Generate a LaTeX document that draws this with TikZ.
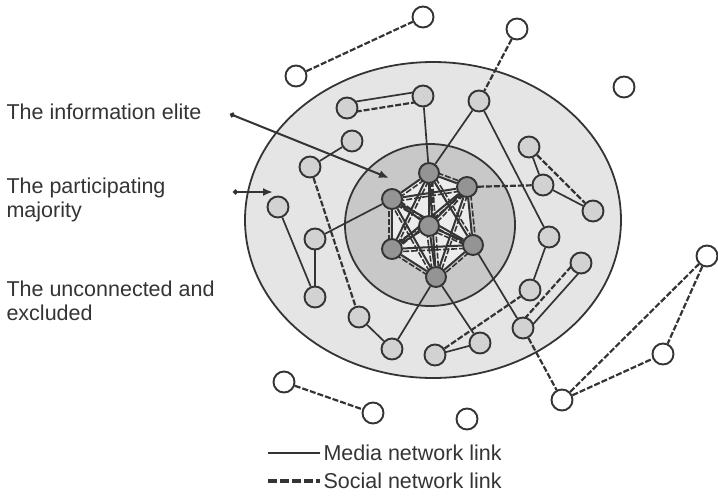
\documentclass[tikz,border=0pt]{standalone}
\usepackage{fontspec}
\setmainfont{Liberation Sans}
\usetikzlibrary{arrows.meta,calc}
\definecolor{InkGray}{RGB}{52,52,52}
\definecolor{OuterGray}{RGB}{229,229,229}
\definecolor{MiddleGray}{RGB}{200,200,200}
\definecolor{CoreGray}{RGB}{236,236,236}
\definecolor{MemberFill}{RGB}{210,210,210}
\definecolor{EliteFill}{RGB}{148,148,148}
\pgfdeclarelayer{back}
\pgfdeclarelayer{links}
\pgfsetlayers{back,links,main}
\tikzset{
  outsider/.style={circle,draw=InkGray,fill=white,line width=1.9pt,
    minimum size=21pt,inner sep=0pt},
  member/.style={circle,draw=InkGray,fill=MemberFill,line width=1.9pt,
    minimum size=21pt,inner sep=0pt},
  elite/.style={circle,draw=InkGray,fill=EliteFill,line width=1.9pt,
    minimum size=20pt,inner sep=0pt},
  media/.style={draw=InkGray,line width=1.7pt},
  social/.style={draw=InkGray,line width=2.2pt,dash pattern=on 6pt off 2pt},
  pointer/.style={draw=InkGray,line width=2pt,{Circle[length=5pt]}-{Latex[length=10pt,width=8pt]}},
  caption/.style={text=InkGray,font=\fontsize{21.5}{23.5}\selectfont,align=left,anchor=west}
}

\begin{document}
\begin{tikzpicture}[x=1pt,y=-1pt]
  \useasboundingbox (0,0) rectangle (718,496);

  % the information elite
  \node[elite] (etop) at (429,173) {};
  \node[elite] (eur)  at (467,187) {};
  \node[elite] (eul)  at (392,199) {};
  \node[elite] (ec)   at (429,226) {};
  \node[elite] (ell)  at (392,249) {};
  \node[elite] (elr)  at (473,245) {};
  \node[elite] (ebot) at (436,277) {};

  % the participating majority
  \node[member] (m1)  at (423,96)  {};
  \node[member] (m2)  at (347,108) {};
  \node[member] (m3)  at (479,101) {};
  \node[member] (m4)  at (352,141) {};
  \node[member] (m5)  at (310,167) {};
  \node[member] (m6)  at (529,147) {};
  \node[member] (m7)  at (543,185) {};
  \node[member] (m8)  at (593,211) {};
  \node[member] (m9)  at (549,237) {};
  \node[member] (m10) at (278,207) {};
  \node[member] (m11) at (315,239) {};
  \node[member] (m12) at (315,297) {};
  \node[member] (m13) at (359,317) {};
  \node[member] (m14) at (392,349) {};
  \node[member] (m15) at (435,355) {};
  \node[member] (m16) at (480,343) {};
  \node[member] (m17) at (530,290) {};
  \node[member] (m18) at (581,263) {};
  \node[member] (m19) at (523,328) {};

  % the unconnected and excluded
  \node[outsider] (u1)  at (423,17)  {};
  \node[outsider] (u2)  at (296,76)  {};
  \node[outsider] (u3)  at (517,29)  {};
  \node[outsider] (u4)  at (624,87)  {};
  \node[outsider] (u5)  at (284,382) {};
  \node[outsider] (u6)  at (373,413) {};
  \node[outsider] (u7)  at (467,419) {};
  \node[outsider] (u8)  at (562,400) {};
  \node[outsider] (u9)  at (707,256) {};
  \node[outsider] (u10) at (663,354) {};

  \begin{pgfonlayer}{back}
    \fill[OuterGray,draw=InkGray,line width=1.8pt] (433,220) ellipse [x radius=188pt,y radius=158pt];
    \fill[MiddleGray,draw=InkGray,line width=1.8pt] (430,225) ellipse [x radius=85pt,y radius=81pt];
    \fill[CoreGray] (etop.center) -- (eur.center) -- (elr.center) -- (ebot.center)
      -- (ell.center) -- (eul.center) -- cycle;
  \end{pgfonlayer}

  \begin{pgfonlayer}{links}
    % mesh among the elite
    \foreach \a [count=\i] in {etop,eur,elr,ebot,ell,eul,ec}
      \foreach \b [count=\j] in {etop,eur,elr,ebot,ell,eul,ec} {
        \ifnum\j>\i
          \draw[media,line width=2pt] (\a) -- (\b);
          \draw[social,line width=1.6pt] ($(\a.center)!3pt!90:(\b.center)$)
            -- ($(\b.center)!3pt!-90:(\a.center)$);
        \fi
      }

    % media links
    \foreach \a/\b in {m1/etop,m4/m5,m3/etop,m3/m9,m6/m7,m7/m8,m10/m12,m11/m12,
      m11/eul,m13/m14,m14/ebot,m15/m16,ebot/m16,elr/m19,m9/m17}
      \draw[media] (\a) -- (\b);

    % social links
    \foreach \a/\b in {u2/u1,u3/m3,m6/m8,eur/m7,m5/m13,m15/m17,m19/u8,
      u8/u9,u8/u10,u9/u10,u5/u6}
      \draw[social] (\a) -- (\b);

    % pairs tied both ways
    \draw[media] ($(m2.center)!5pt!90:(m1.center)$) -- ($(m1.center)!5pt!-90:(m2.center)$);
    \draw[social] ($(m2.center)!5pt!-90:(m1.center)$) -- ($(m1.center)!5pt!90:(m2.center)$);
    \draw[social] ($(m19.center)!5pt!90:(m18.center)$) -- ($(m18.center)!5pt!-90:(m19.center)$);
    \draw[media] ($(m19.center)!5pt!-90:(m18.center)$) -- ($(m18.center)!5pt!90:(m19.center)$);
  \end{pgfonlayer}

  % captions on the left
  \node[caption] (elitelbl) at (3,112) {The information elite};
  \node[caption] (majlbl) at (3,200) {The participating\\majority};
  \node[caption] (exclbl) at (3,301) {The unconnected and\\excluded};

  \coordinate (elitefoot) at (230,114);
  \coordinate (elitetip) at (389,178);
  \draw[pointer] (elitefoot) -- (elitetip);
  \coordinate (majfoot) at (233,192);
  \coordinate (majtip) at (273,192);
  \draw[pointer] (majfoot) -- (majtip);

  % legend
  \node[caption] (medialbl) at (320,453) {Media network link};
  \node[caption] (sociallbl) at (320,481) {Social network link};
  \coordinate (mediakey) at (268,453);
  \coordinate (socialkey) at (268,481);
  \draw[media] (mediakey) -- (medialbl.west);
  \draw[social,line width=3.2pt,dash pattern=on 9pt off 3pt] (socialkey) -- (sociallbl.west);
\end{tikzpicture}
\end{document}
